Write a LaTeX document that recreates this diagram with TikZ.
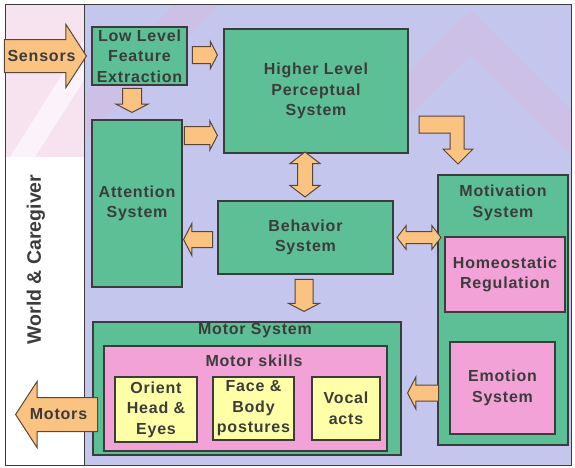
\documentclass[tikz,border=0pt]{standalone}
\usepackage{fontspec}
\setmainfont{Liberation Sans}
\usetikzlibrary{shapes.arrows}
\definecolor{panel}{HTML}{C4C6EE}
\definecolor{boxgreen}{HTML}{5DBF96}
\definecolor{boxpink}{HTML}{F2A2D6}
\definecolor{boxyellow}{HTML}{FFFFA8}
\definecolor{arrowfill}{HTML}{FAC382}
\definecolor{arrowline}{HTML}{5A4636}
\definecolor{ink}{HTML}{3C3C3C}
\definecolor{wmark}{HTML}{E8B0D4}
\newcommand{\lblfont}{\fontsize{16}{20.5}\selectfont\bfseries\addfontfeature{LetterSpace=5}}
\tikzset{
  box/.style={draw=ink, line width=1.2pt, inner sep=0pt, align=center, text=ink, font=\lblfont},
  grnbox/.style={box, fill=boxgreen},
  pnkbox/.style={box, fill=boxpink},
  ylwbox/.style={box, fill=boxyellow},
  lbl/.style={text=ink, font=\lblfont, align=center, inner sep=0pt},
  fat/.style={single arrow, draw=arrowline, fill=arrowfill, line width=1pt, inner sep=0pt,
    single arrow head indent=0pt, single arrow tip angle=125, anchor=tip},
  fatboth/.style={double arrow, draw=arrowline, fill=arrowfill, line width=1pt, inner sep=0pt,
    double arrow head indent=0pt, double arrow tip angle=105},
}
\begin{document}
\begin{tikzpicture}[x=1pt,y=-1pt]
\useasboundingbox (0,0) rectangle (575,467);
% background
\fill[white] (5,4) rectangle (571,465);
\fill[wmark!35] (5,4) rectangle (84,157);
\fill[white, opacity=0.6] (84,40) -- (84,80) -- (35,157) -- (10,157) -- cycle;
\fill[panel] (84,4) rectangle (571,465);
\begin{scope}
\clip (84,4) rectangle (571,465);
\fill[wmark, opacity=0.25] (84,95) -- (190,-10) -- (235,-10) -- (84,140) -- cycle;
\fill[wmark, opacity=0.25] (330,150) -- (470,10) -- (590,130) -- (590,175) -- (470,55) -- (375,150) -- cycle;
\end{scope}
\draw[ink, line width=1pt] (5,4) rectangle (571,465);
\draw[ink, line width=1pt] (84,4) -- (84,465);
\node[lbl, rotate=90, font=\fontsize{19.5}{20}\selectfont\bfseries] (world) at (36,259.5) {World \& Caregiver};

% boxes
\node[grnbox, minimum width=95pt, minimum height=58pt] (llfe) at (139.5,56) {Low Level\\Feature\\Extraction};
\node[grnbox, minimum width=184pt, minimum height=124pt] (hlps) at (316,91) {Higher Level\\Perceptual\\System};
\node[grnbox, minimum width=90pt, minimum height=167pt] (att) at (137,203.5) {Attention\\System};
\node[grnbox, minimum width=175pt, minimum height=73pt] (beh) at (305.5,237.5) {Behavior\\System};
\node[grnbox, minimum width=130pt, minimum height=270pt] (motiv) at (503,310) {};
\node[lbl] (motivlbl) at (503,203) {Motivation\\System};
\node[pnkbox, minimum width=120pt, minimum height=75pt] (homeo) at (505,274.5) {Homeostatic\\Regulation};
\node[pnkbox, minimum width=105pt, minimum height=92pt] (emo) at (502.5,388) {Emotion\\System};
\node[grnbox, minimum width=308pt, minimum height=133pt] (msys) at (247,388.5) {};
\node[lbl] (msyslbl) at (255,331) {Motor System};
\node[pnkbox, minimum width=283pt, minimum height=105pt] (mskill) at (245.5,398.5) {};
\node[lbl] (mskilllbl) at (254,361) {Motor skills};
\node[ylwbox, minimum width=82pt, minimum height=65pt] (orient) at (156,409.5) {Orient\\Head \&\\Eyes};
\node[ylwbox, minimum width=81pt, minimum height=63pt] (face) at (253.5,408.5) {Face \&\\Body\\postures};
\node[ylwbox, minimum width=68pt, minimum height=63pt] (vocal) at (346,408.5) {Vocal\\acts};

% block arrows
\node[fat, minimum height=82pt, inner ysep=16pt, single arrow head extend=15pt, single arrow tip angle=114] (sensarr) at (87,56) {};
\node[lbl] (sens) at (41.5,56) {Sensors};
\node[fat, minimum height=25pt, inner ysep=8pt, single arrow head extend=5pt] (a1) at (218,55) {};
\node[fat, rotate=-90, minimum height=24pt, inner ysep=9pt, single arrow head extend=6.5pt] (a2) at (132,113) {};
\node[fat, minimum height=33pt, inner ysep=8.5pt, single arrow head extend=5.5pt] (a3) at (218,135.5) {};
\node[fatboth, rotate=90, minimum height=45pt, inner ysep=7pt, double arrow head extend=7.5pt] (a4) at (305,174.5) {};
\node[fat, rotate=180, minimum height=29pt, inner ysep=7.5pt, single arrow head extend=8pt] (a5) at (183,239.5) {};
\node[fatboth, minimum height=44pt, inner ysep=5.5pt, double arrow head extend=6pt] (a6) at (419,237.5) {};
\node[fat, rotate=-90, minimum height=32pt, inner ysep=8.5pt, single arrow head extend=6.5pt] (a7) at (304,312) {};
\node[fat, rotate=180, minimum height=31pt, inner ysep=7.5pt, single arrow head extend=8pt] (a8) at (407,393) {};
\node[fat, rotate=180, minimum height=82pt, inner ysep=16.5pt, single arrow head extend=16pt, single arrow tip angle=114] (motarr) at (15,414.5) {};
\node[lbl] (motors) at (58.5,414.5) {Motors};
\draw[draw=arrowline, fill=arrowfill, line width=1pt, line join=miter] (419,116) -- (464,116) -- (464,149) -- (473,149) -- (458,164) -- (443,149) -- (450,149) -- (450,133) -- (419,133) -- cycle;
\end{tikzpicture}
\end{document}
